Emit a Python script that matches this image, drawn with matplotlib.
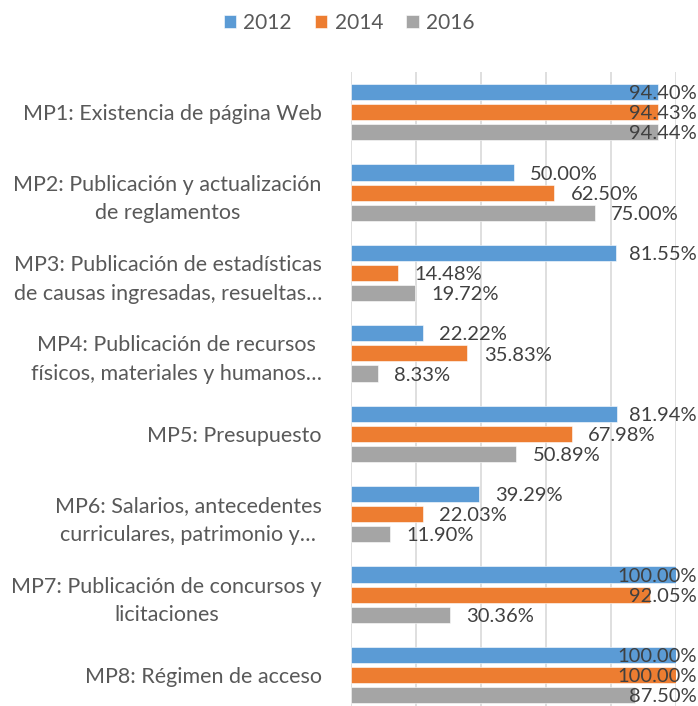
import matplotlib.pyplot as plt
import numpy as np

# data
categories = [
    "MP1: Existencia de página Web",
    "MP2: Publicación y actualización\nde reglamentos",
    "MP3: Publicación de estadísticas\nde causas ingresadas, resueltas…",
    "MP4: Publicación de recursos\nfísicos, materiales y humanos…",
    "MP5: Presupuesto",
    "MP6: Salarios, antecedentes\ncurriculares, patrimonio y…",
    "MP7: Publicación de concursos y\nlicitaciones",
    "MP8: Régimen de acceso",
]
series = ["2012", "2014", "2016"]
v2012 = [94.40, 50.00, 81.55, 22.22, 81.94, 39.29, 100.00, 100.00]
v2014 = [94.43, 62.50, 14.48, 35.83, 67.98, 22.03, 92.05, 100.00]
v2016 = [94.44, 75.00, 19.72, 8.33, 50.89, 11.90, 30.36, 87.50]
colors = ["#5B9BD5", "#ED7D31", "#A5A5A5"]

plt.rcParams['font.family'] = ['Lato', 'DejaVu Sans']

fig = plt.figure(figsize=(6.98, 7.06), dpi=100)
ax = fig.add_axes([351/698, 0, (676-351)/698, (706-72)/706])

y = np.arange(len(categories))
offsets = [-0.25, 0, 0.25]
label_limit = 1.064  # right edge of the chart area, in data units

for vals, off, col, name in zip([v2012, v2014, v2016], offsets, colors, series):
    vals = np.array(vals) / 100
    ax.barh(y + off, vals, height=0.2, color=col, edgecolor='white', linewidth=0.4, label=name, zorder=3)
    for yi, v in zip(y + off, vals):
        txt = f"{v*100:.2f}%"
        if v + 0.05 + 0.2 > label_limit:
            ax.text(label_limit, yi + 0.02, txt, ha='right', va='center', fontsize=14.5, color='#404040', zorder=4, clip_on=False)
        else:
            ax.text(v + 0.05, yi + 0.02, txt, ha='left', va='center', fontsize=14.5, color='#404040', zorder=4, clip_on=False)

ax.set_xlim(0, 1)
ax.set_ylim(7.385, -0.5)
ax.set_xticks(np.arange(0, 1.01, 0.2))
ax.xaxis.grid(True, color='#D9D9D9', linewidth=1.2, zorder=0)
ax.tick_params(axis='x', length=0, labelbottom=False)
ax.set_yticks(y)
ax.set_yticklabels(categories, fontsize=15.5, color='#595959', multialignment='center', linespacing=1.55)
ax.tick_params(axis='y', length=0, pad=21)
for s in ax.spines.values():
    s.set_visible(False)

fig.legend(loc='upper center', bbox_to_anchor=(0.5, 1.008), ncol=3, frameon=False,
           fontsize=15, handlelength=0.6, handleheight=0.6, columnspacing=1.1, handletextpad=0.35,
           labelcolor='#595959')

fig.savefig("out.png", dpi=100)
